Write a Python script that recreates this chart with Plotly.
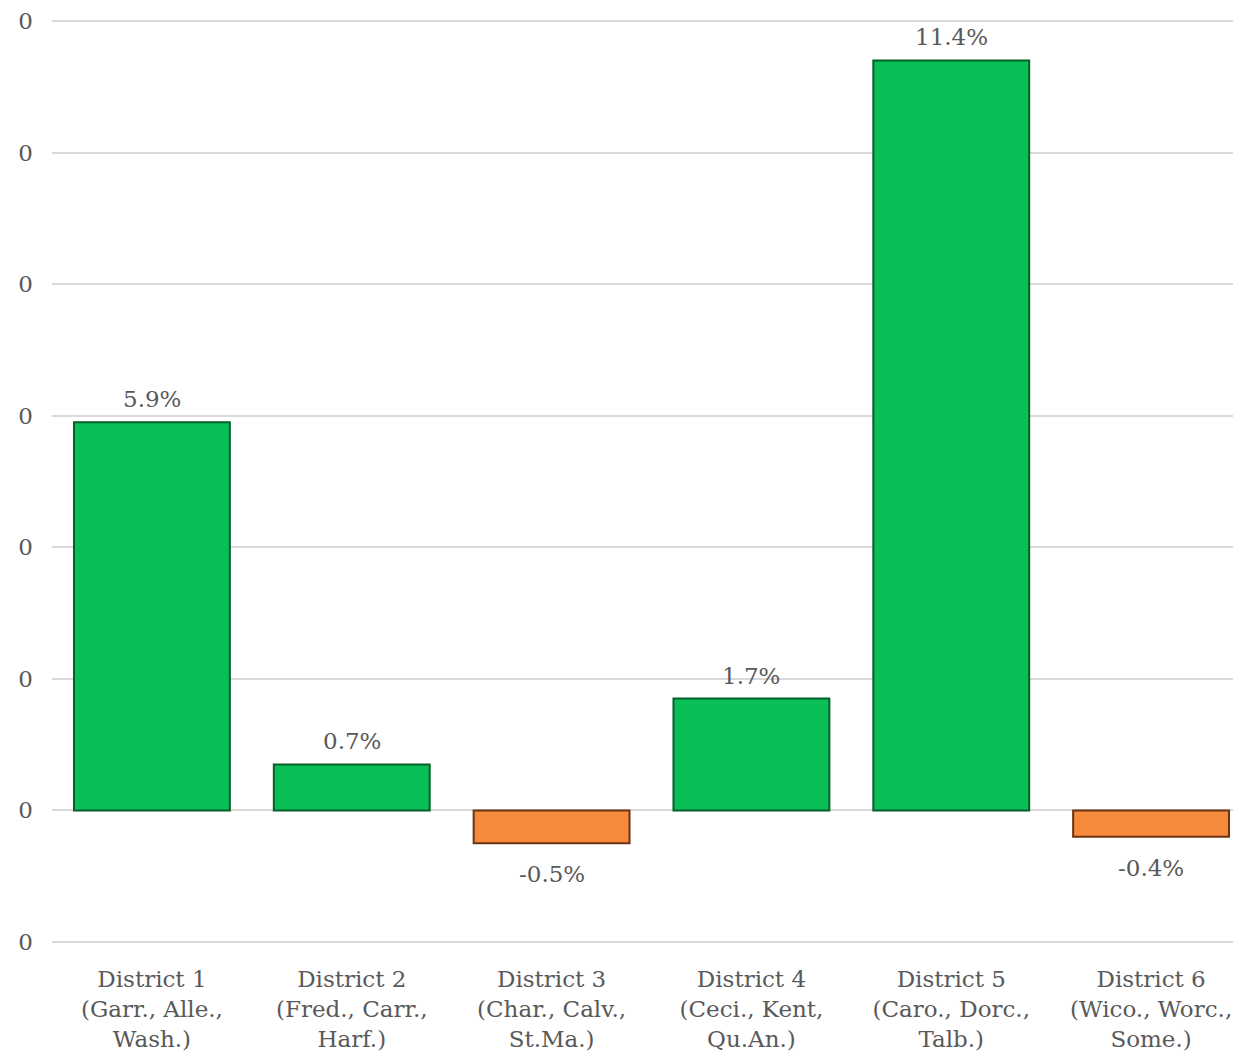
import plotly.graph_objects as go

districts = [
    "District 1<br>(Garr., Alle.,<br>Wash.)",
    "District 2<br>(Fred., Carr.,<br>Harf.)",
    "District 3<br>(Char., Calv.,<br>St.Ma.)",
    "District 4<br>(Ceci., Kent,<br>Qu.An.)",
    "District 5<br>(Caro., Dorc.,<br>Talb.)",
    "District 6<br>(Wico., Worc.,<br>Some.)",
]
change = [0.059, 0.007, -0.005, 0.017, 0.114, -0.004]
y_ticks = [-0.02, 0.0, 0.02, 0.04, 0.06, 0.08, 0.10, 0.12]
y_tick_text = ["0", "0", "0", "0", "0", "0", "0", "0"]

GREEN = "#0abf55"
ORANGE = "#f58a3c"
TEXT = "#595959"

fill = [GREEN if v >= 0 else ORANGE for v in change]
edge = ["#05602a" if v >= 0 else "#6b3310" for v in change]

fig = go.Figure(
    go.Bar(
        x=districts,
        y=change,
        marker=dict(color=fill, line=dict(color=edge, width=2)),
        hoverinfo="skip",
    )
)

# value labels, placed a little further off the bars than plotly's "outside"
for name, v in zip(districts, change):
    fig.add_annotation(
        x=name,
        y=v,
        text=f"{v * 100:.1f}%",
        showarrow=False,
        yanchor="bottom" if v >= 0 else "top",
        yshift=8 if v >= 0 else -16,
        font=dict(size=23, color=TEXT),
    )

# the page body has an 8px margin; the plot runs a little past the right edge.
# the y range is padded by ~2px each side so plotly keeps the end gridlines.
fig.update_layout(
    width=1243,
    height=1052,
    margin=dict(l=44, r=0, t=11, b=116),
    paper_bgcolor="white",
    plot_bgcolor="white",
    font=dict(family="DejaVu Serif", size=23, color=TEXT),
    bargap=0.22,
    showlegend=False,
)
fig.update_xaxes(
    showgrid=False,
    showline=False,
    ticks="",
    tickfont=dict(size=23),
    automargin=False,
    ticklabelstandoff=19,
)
fig.update_yaxes(
    range=[-0.020304, 0.120304],
    tickvals=y_ticks,
    ticktext=y_tick_text,
    showgrid=True,
    gridcolor="#d9d9d9",
    gridwidth=1.5,
    zeroline=True,
    zerolinecolor="#d9d9d9",
    zerolinewidth=1.5,
    ticklabelstandoff=18,
    ticklabeloverflow="allow",
    tickfont=dict(size=23),
    automargin=False,
)

fig.write_html("out.html")
